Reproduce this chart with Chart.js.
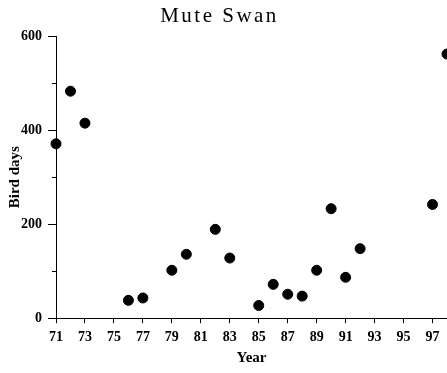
<!DOCTYPE html>
<html>
<head>
<meta charset="utf-8">
<script src="https://cdn.jsdelivr.net/npm/chart.js@4.4.0/dist/chart.umd.min.js"></script>
<style>
html,body{margin:0;padding:0;background:#fff;}
#c{display:block;}
</style>
</head>
<body>
<canvas id="c" width="447" height="373"></canvas>
<script>
const years = [71, 72, 73, 76, 77, 79, 80, 82, 83, 85, 86, 87, 88, 89, 90, 91, 92, 97, 98];
const birdDays = [371, 483, 415, 38, 43, 102, 136, 189, 128, 27, 72, 51, 47, 102, 233, 87, 148, 242, 562];
const xTicks = [71, 73, 75, 77, 79, 81, 83, 85, 87, 89, 91, 93, 95, 97];
const yTicks = [0, 200, 400, 600];
const yMinorTicks = [100, 300, 500];

Chart.defaults.font.family = "'Liberation Serif', 'Times New Roman', serif";
Chart.defaults.color = '#000';

const spacedTitle = {
  id: 'spacedTitle',
  beforeDraw(chart) {
    const tb = chart.titleBlock;
    if (tb && !tb._wrapped) {
      const orig = tb.draw.bind(tb);
      tb.draw = function (a) {
        const c = chart.ctx;
        c.save();
        c.letterSpacing = '2.5px';
        c.translate(-7, 0);
        orig(a);
        c.restore();
      };
      tb._wrapped = true;
    }
  }
};

const minorTicks = {
  id: 'minorTicks',
  afterDraw(chart) {
    const y = chart.scales.y;
    const c = chart.ctx;
    c.save();
    c.strokeStyle = '#000';
    c.lineWidth = 1;
    yMinorTicks.forEach(v => {
      const py = Math.round(y.getPixelForValue(v)) + 0.5;
      c.beginPath();
      c.moveTo(y.right - 4, py);
      c.lineTo(y.right, py);
      c.stroke();
    });
    c.restore();
  }
};

new Chart(document.getElementById('c'), {
  type: 'scatter',
  data: {
    datasets: [{
      data: years.map((x, i) => ({ x: x, y: birdDays[i] })),
      backgroundColor: '#000',
      borderColor: '#000',
      pointRadius: 5,
      pointHoverRadius: 5,
      clip: false
    }]
  },
  options: {
    responsive: false,
    animation: false,
    devicePixelRatio: 1,
    layout: { autoPadding: false, padding: { left: 6, right: 0, top: 0, bottom: 6 } },
    plugins: {
      legend: { display: false },
      tooltip: { enabled: false },
      title: {
        display: true,
        text: 'Mute Swan',
        color: '#000',
        font: { size: 21, weight: 'normal' },
        padding: { top: 4, bottom: 7 }
      }
    },
    scales: {
      x: {
        type: 'linear',
        min: 71,
        max: 98,
        afterBuildTicks: s => { s.ticks = xTicks.map(v => ({ value: v })); },
        grid: { drawOnChartArea: false, tickLength: 5, color: '#000' },
        border: { color: '#000', width: 1 },
        ticks: { font: { size: 14, weight: 'bold' }, padding: 6, maxRotation: 0, autoSkip: false, color: '#000' },
        title: { display: true, text: 'Year', font: { size: 15, weight: 'bold' }, padding: { top: -3, bottom: 0 }, color: '#000' }
      },
      y: {
        min: 0,
        max: 600,
        afterBuildTicks: s => { s.ticks = yTicks.map(v => ({ value: v })); },
        grid: { drawOnChartArea: false, tickLength: 8, color: '#000' },
        border: { color: '#000', width: 1 },
        ticks: { font: { size: 14, weight: 'bold' }, padding: 6, color: '#000' },
        title: { display: true, text: 'Bird days', font: { size: 15, weight: 'bold' }, padding: { top: 0, bottom: -9 }, color: '#000' }
      }
    }
  },
  plugins: [spacedTitle, minorTicks]
});
</script>
</body>
</html>
